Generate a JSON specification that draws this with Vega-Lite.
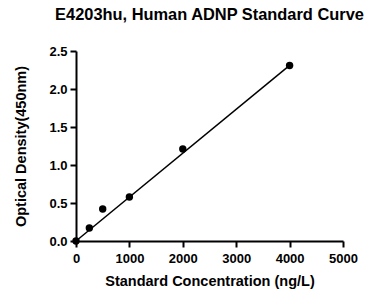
{
  "$schema": "https://vega.github.io/schema/vega-lite/v6.json",
  "width": 267,
  "height": 190,
  "autosize": {"type": "none"},
  "padding": {"left": 76, "top": 51, "right": 31, "bottom": 48},
  "background": "white",
  "title": {
    "text": "E4203hu, Human ADNP Standard Curve",
    "font": "Liberation Sans",
    "fontSize": 16.4,
    "fontWeight": "bold",
    "color": "black",
    "anchor": "middle",
    "baseline": "alphabetic",
    "offset": 9
  },
  "config": {
    "view": {"stroke": null},
    "axis": {
      "grid": false,
      "domainColor": "black",
      "domainWidth": 2,
      "tickColor": "black",
      "tickWidth": 2,
      "tickSize": 6,
      "labelOverlap": false,
      "labelFlush": false,
      "labelBound": false,
      "labelFont": "Liberation Sans",
      "labelFontSize": 13,
      "labelFontWeight": "bold",
      "labelColor": "black",
      "titleFont": "Liberation Sans",
      "titleFontSize": 14.5,
      "titleFontWeight": "bold",
      "titleColor": "black"
    }
  },
  "datasets": {
    "pts": [
      {"conc": 0, "od": 0.0},
      {"conc": 250, "od": 0.17},
      {"conc": 500, "od": 0.42},
      {"conc": 1000, "od": 0.58},
      {"conc": 2000, "od": 1.21},
      {"conc": 4000, "od": 2.31}
    ],
    "fit": [
      {"conc": 0, "od": 0.0},
      {"conc": 4000, "od": 2.31}
    ]
  },
  "encoding": {
    "x": {"field": "conc", "type": "quantitative", "scale": {"domain": [0, 5000], "nice": false}, "axis": {"values": [0, 1000, 2000, 3000, 4000, 5000], "title": "Standard Concentration (ng/L)", "labelPadding": 5, "titlePadding": 9, "format": "d"}},
    "y": {"field": "od", "type": "quantitative", "scale": {"domain": [0, 2.5], "nice": false}, "axis": {"values": [0, 0.5, 1, 1.5, 2, 2.5], "format": ".1f", "title": "Optical Density(450nm)", "labelPadding": 3, "titlePadding": 20}}
  },
  "layer": [
    {
      "data": {"name": "fit"},
      "mark": {"type": "line", "color": "black", "strokeWidth": 1.5}
    },
    {
      "data": {"name": "pts"},
      "mark": {"type": "circle", "color": "black", "opacity": 1, "size": 55, "clip": false}
    }
  ]
}
